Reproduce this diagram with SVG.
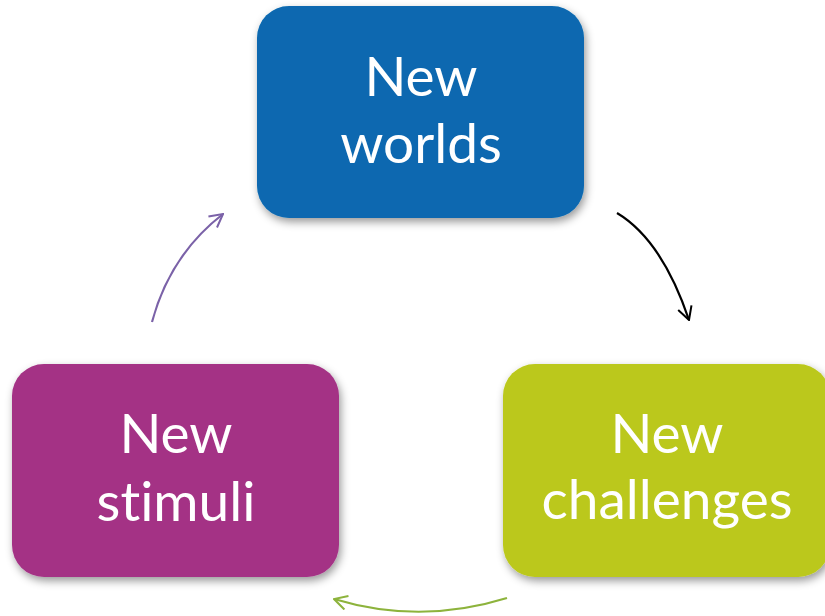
<svg xmlns="http://www.w3.org/2000/svg" width="825" height="616" viewBox="0 0 825 616">
  <defs>
    <filter id="shadow" x="-10%" y="-10%" width="125%" height="130%">
      <feDropShadow dx="2" dy="4" stdDeviation="4" flood-color="#000" flood-opacity="0.4"/>
    </filter>
    <marker id="head-black" viewBox="0 0 16 16" refX="15" refY="8" markerWidth="16" markerHeight="16" markerUnits="userSpaceOnUse" orient="auto">
      <path d="M2,1 L15,8 L2,15" fill="none" stroke="#000" stroke-width="2"/>
    </marker>
    <marker id="head-purple" viewBox="0 0 16 16" refX="15" refY="8" markerWidth="16" markerHeight="16" markerUnits="userSpaceOnUse" orient="auto">
      <path d="M2,1 L15,8 L2,15" fill="none" stroke="#7B62A8" stroke-width="2"/>
    </marker>
    <marker id="head-green" viewBox="0 0 16 16" refX="15" refY="8" markerWidth="16" markerHeight="16" markerUnits="userSpaceOnUse" orient="auto">
      <path d="M2,1 L15,8 L2,15" fill="none" stroke="#8DB33C" stroke-width="2"/>
    </marker>
  </defs>
  <style>
    .box { filter: url(#shadow); }
    .label { font-family: "Lato", "Open Sans", "Liberation Sans", sans-serif; font-size: 55px; fill: #fff; text-anchor: middle; font-variant-ligatures: none; }
    .conn { fill: none; stroke-width: 2.2; }
  </style>

  <rect width="825" height="616" fill="#fff"/>

  <g id="connectors">
    <path class="conn" d="M617,213 Q662,240 689,320" stroke="#000" marker-end="url(#head-black)"/>
    <path class="conn" d="M152,322 Q170,255 223,214" stroke="#7B62A8" marker-end="url(#head-purple)"/>
    <path class="conn" d="M507,598 Q420,625 334,599" stroke="#8DB33C" marker-end="url(#head-green)"/>
  </g>

  <g id="node-worlds">
    <rect class="box" x="257" y="6" width="327" height="212" rx="32" fill="#0868B0"/>
    <text class="label" x="421" y="96">New</text>
    <text class="label" x="421" y="163">worlds</text>
  </g>

  <g id="node-challenges">
    <rect class="box" x="503" y="364" width="327" height="213" rx="32" fill="#BBC81A"/>
    <text class="label" x="667" y="453">New</text>
    <text class="label" x="667" y="519">challenges</text>
  </g>

  <g id="node-stimuli">
    <rect class="box" x="12" y="364" width="327" height="213" rx="32" fill="#A43285"/>
    <text class="label" x="176" y="453">New</text>
    <text class="label" x="176" y="521">stimuli</text>
  </g>
</svg>
